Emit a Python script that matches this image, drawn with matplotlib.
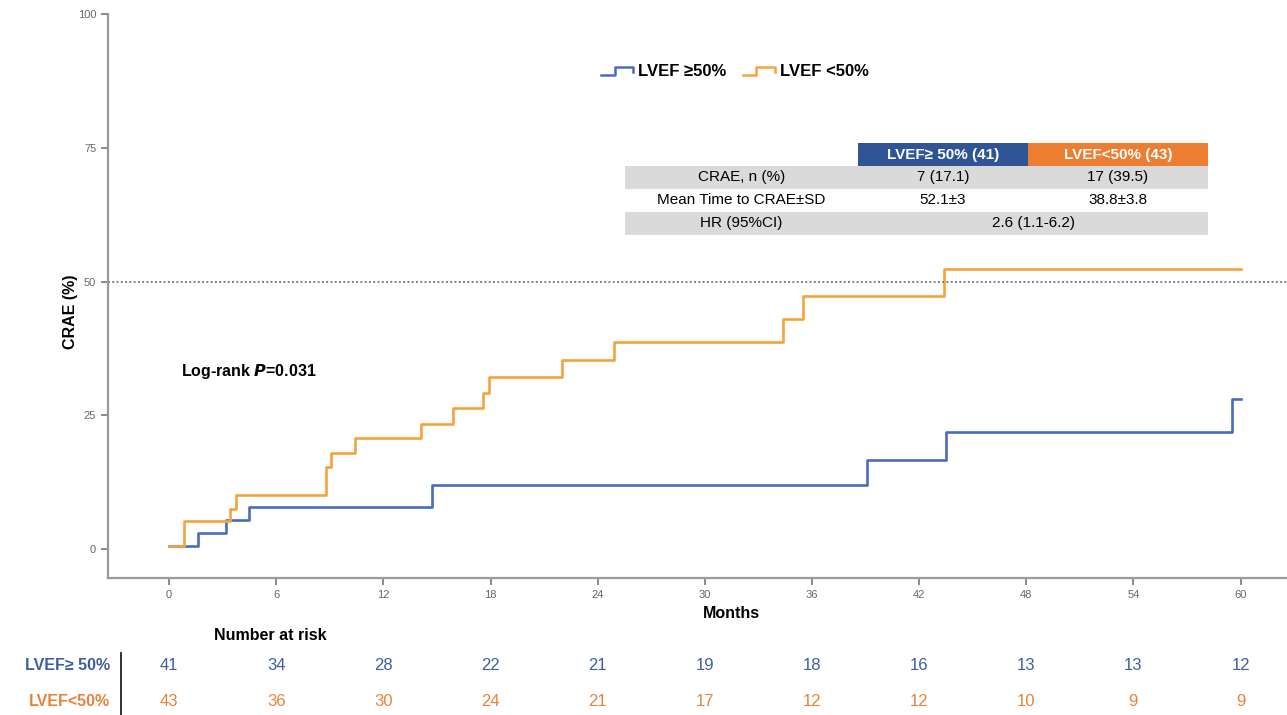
import matplotlib
matplotlib.use('Agg')
import matplotlib.pyplot as plt
import matplotlib.transforms as mtransforms
from matplotlib.lines import Line2D
from matplotlib.patches import Rectangle
from matplotlib.legend_handler import HandlerBase

plt.rcParams['font.family'] = ['Liberation Sans', 'DejaVu Sans']

# Cumulative incidence of CRAE (%) (step, post)
hi_t = [0, 1.6, 3.2, 4.5, 14.7, 39.1, 43.5, 59.5, 60]
hi_y = [0.5, 2.9, 5.4, 7.9, 12.0, 16.6, 21.9, 28.0, 28.0]
lo_t = [0, 0.85, 3.4, 3.75, 8.8, 9.05, 10.4, 14.1, 15.9, 17.6, 17.9, 22.0, 24.9, 34.4, 35.5, 43.4, 60]
lo_y = [0.5, 5.3, 7.5, 10.1, 15.4, 18.0, 20.7, 23.4, 26.3, 29.2, 32.1, 35.3, 38.6, 43.0, 47.3, 52.3, 52.3]

# Number at risk
risk_months = [0, 6, 12, 18, 24, 30, 36, 42, 48, 54, 60]
risk_hi = [41, 34, 28, 22, 21, 19, 18, 16, 13, 13, 12]
risk_lo = [43, 36, 30, 24, 21, 17, 12, 12, 10, 9, 9]

# Inset summary table
table_header = ['LVEF≥ 50% (41)', 'LVEF<50% (43)']
table_labels = ['CRAE, n (%)', 'Mean Time to CRAE±SD', 'HR (95%CI)']
table_hi = ['7 (17.1)', '52.1±3', '2.6 (1.1-6.2)']
table_lo = ['17 (39.5)', '38.8±3.8', None]

c_hi = '#4a6cc0'
c_lo = '#f5a33c'
c_hi_txt = '#3d5ea6'
c_lo_txt = '#e8823a'

W, H = 1287, 715
fig = plt.figure(figsize=(W / 100, H / 100), dpi=100)


def fx(px):
    return px / W


def fy(py):
    return 1 - py / H


ax = fig.add_axes([fx(108), fy(578), 1 - fx(108), fy(14) - fy(578)])
ax.step(hi_t, hi_y, where='post', color=c_hi, lw=1.9, label='LVEF ≥50%')
ax.step(lo_t, lo_y, where='post', color=c_lo, lw=1.9, label='LVEF <50%')
ax.axhline(50, color='#808080', ls=(0, (1, 1.2)), lw=1.4)

ax.set_xlim(-3.42, 62.6)
ax.set_ylim(-5.42, 100)
ax.set_xticks(risk_months)
ax.set_yticks([0, 25, 50, 75, 100])
for s in ['top', 'right']:
    ax.spines[s].set_visible(False)
for s in ['left', 'bottom']:
    ax.spines[s].set_color('#9a9a9a')
    ax.spines[s].set_linewidth(1.6)
ax.tick_params(colors='#8a8a8a', labelcolor='#666666', labelsize=8, length=5, width=1.4)

ax.text(0.67, 33.1, 'Log-rank $\\boldsymbol{P}$=0.031', fontsize=11.5, weight='bold',
        va='center', ha='left')

fig.text(fx(70), fy(312), 'CRAE (%)', rotation=90, ha='center', va='center',
         fontsize=11.5, weight='bold')
fig.text(fx(731), fy(613), 'Months', ha='center', va='center', fontsize=11.5, weight='bold')


class StepHandler(HandlerBase):
    def create_artists(self, legend, orig_handle, xdescent, ydescent, width, height,
                       fontsize, trans):
        xs = [0, 0.42, 0.42, 1.0, 1.0]
        ys = [0.1, 0.1, 0.85, 0.85, 0.35]
        line = Line2D([x * width - xdescent for x in xs], [y * height - ydescent for y in ys],
                      color=orig_handle.get_color(), lw=1.8)
        line.set_transform(trans)
        return [line]


handles = [Line2D([], [], color=c_hi), Line2D([], [], color=c_lo)]
ax.legend(handles, ['LVEF ≥50%', 'LVEF <50%'], handler_map={Line2D: StepHandler()},
          loc='center', bbox_to_anchor=(fx(735), fy(72)), bbox_transform=fig.transFigure,
          ncol=2, frameon=False, handlelength=1.9, handletextpad=0.3, columnspacing=1.0,
          prop={'size': 12, 'weight': 'bold'})

# summary table drawn in figure pixels
cols = [625, 858, 1028, 1208]
rows = [143, 166, 189, 211.5, 235]


def cell(x0, x1, y0, y1, color):
    fig.add_artist(Rectangle((fx(x0), fy(y1)), fx(x1) - fx(x0), fy(y0) - fy(y1),
                             transform=fig.transFigure, facecolor=color, edgecolor='none'))


cell(cols[1], cols[2], rows[0], rows[1], '#2f5597')
cell(cols[2], cols[3], rows[0], rows[1], '#ed7d31')
for i, hdr in enumerate(table_header):
    fig.text(fx((cols[i + 1] + cols[i + 2]) / 2), fy((rows[0] + rows[1]) / 2), hdr,
             color='white', weight='bold', fontsize=11, ha='center', va='center')
for r, lab in enumerate(table_labels):
    y0, y1 = rows[r + 1], rows[r + 2]
    if r % 2 == 0:
        cell(cols[0], cols[3], y0, y1, '#dadada')
    yc = fy((y0 + y1) / 2)
    fig.text(fx((cols[0] + cols[1]) / 2), yc, lab, fontsize=11, ha='center', va='center')
    if table_lo[r] is None:
        fig.text(fx((cols[1] + cols[3]) / 2), yc, table_hi[r], fontsize=11,
                 ha='center', va='center')
    else:
        fig.text(fx((cols[1] + cols[2]) / 2), yc, table_hi[r], fontsize=11,
                 ha='center', va='center')
        fig.text(fx((cols[2] + cols[3]) / 2), yc, table_lo[r], fontsize=11,
                 ha='center', va='center')

# number at risk
fig.text(fx(214), fy(636), 'Number at risk', fontsize=11.5, weight='bold', ha='left', va='center')
fig.text(fx(110), fy(666), 'LVEF≥ 50%', fontsize=11.5, weight='bold', color=c_hi_txt,
         ha='right', va='center')
fig.text(fx(110), fy(701), 'LVEF<50%', fontsize=11.5, weight='bold', color=c_lo_txt,
         ha='right', va='center')
fig.add_artist(Line2D([fx(121), fx(121)], [fy(653), fy(715)], color='#222222', lw=1.3,
                      transform=fig.transFigure))
tr = mtransforms.blended_transform_factory(ax.transData, fig.transFigure)
for m, a, b in zip(risk_months, risk_hi, risk_lo):
    ax.text(m, fy(666), str(a), transform=tr, color=c_hi_txt, fontsize=12,
            ha='center', va='center', clip_on=False)
    ax.text(m, fy(701), str(b), transform=tr, color=c_lo_txt, fontsize=12,
            ha='center', va='center', clip_on=False)

fig.savefig('out.png', dpi=100)
